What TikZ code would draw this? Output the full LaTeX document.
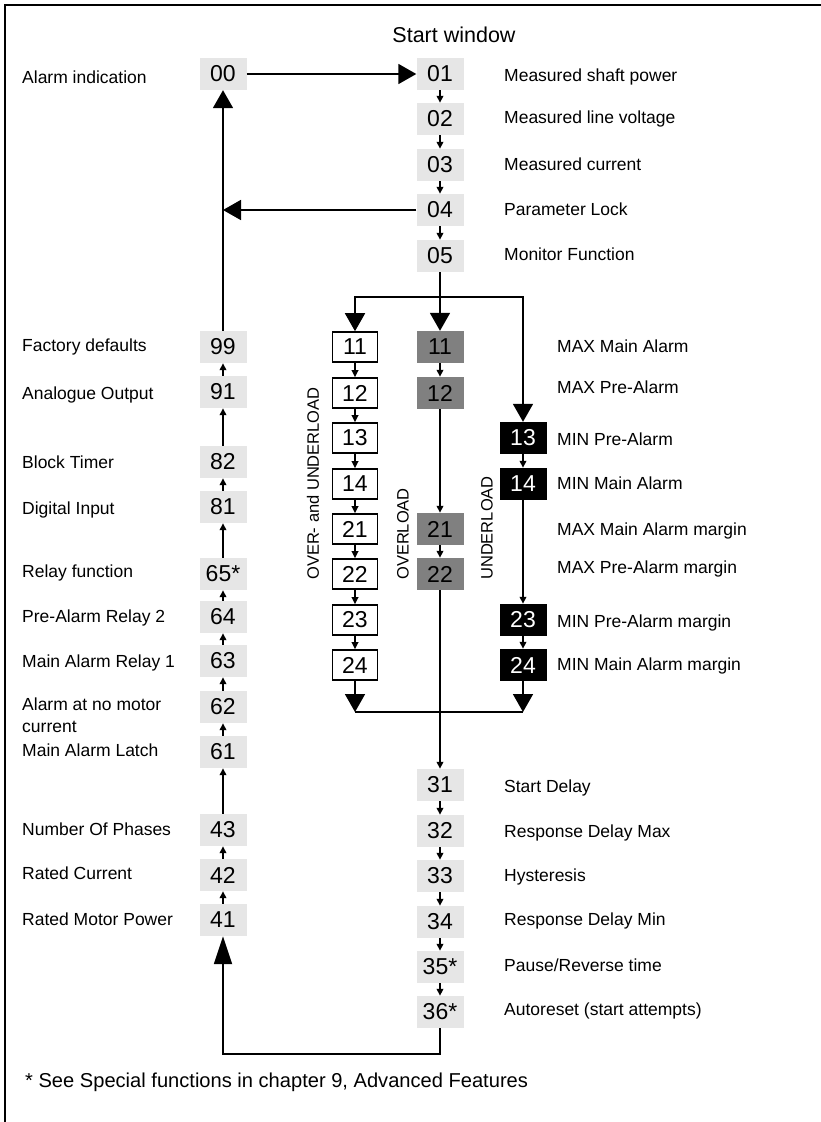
\documentclass[tikz,border=0pt]{standalone}
\usepackage{fontspec}
\setmainfont{Liberation Sans}
\usetikzlibrary{arrows.meta}
\definecolor{lgrey}{HTML}{E6E6E6}
\definecolor{dgrey}{HTML}{808080}
\newcommand\numf{\fontsize{23}{26}\selectfont}
\newcommand\lblf{\fontsize{17.5}{21}\selectfont}
\newcommand\rotf{\fontsize{16.5}{20}\selectfont}
\newcommand\footf{\fontsize{20.1}{23}\selectfont}
\begin{document}
\begin{tikzpicture}[x=1pt,y=-1pt,
  numbox/.style={minimum width=47pt,minimum height=32pt,inner sep=0pt,font=\numf},
  lgbox/.style={numbox,fill=lgrey},
  wbox/.style={numbox,draw,line width=1.6pt,fill=white,minimum width=45pt,minimum height=30pt},
  dgbox/.style={numbox,fill=dgrey},
  bkbox/.style={numbox,fill=black,text=white},
  lbl/.style={anchor=base west,font=\lblf,inner sep=0pt},
  rlbl/.style={anchor=west,font=\rotf,inner sep=0pt,rotate=90},
  conn/.style={line width=1.8pt},
  big/.style={conn,-{Triangle[length=18pt,width=20pt]}},
  small/.style={conn,-{Triangle[length=7pt,width=6.5pt]}},
]
\useasboundingbox (0,0) rectangle (821,1122);
\draw[line width=2pt] (5,1122) -- (5,5) -- (821,5);

\node[anchor=base,font=\fontsize{21.5}{24}\selectfont,inner sep=0pt] (title) at (454,42) {Start window};

% top column
\node[lgbox] (n00) at (223,74) {00};
\node[lgbox] (n01) at (440,74) {01};
\node[lgbox] (n02) at (440,119) {02};
\node[lgbox] (n03) at (440,165) {03};
\node[lgbox] (n04) at (440,210) {04};
\node[lgbox] (n05) at (440,256) {05};

% white column
\node[wbox] (w11) at (355,347) {11};
\node[wbox] (w12) at (355,393) {12};
\node[wbox] (w13) at (355,438) {13};
\node[wbox] (w14) at (355,484) {14};
\node[wbox] (w21) at (355,529) {21};
\node[wbox] (w22) at (355,574) {22};
\node[wbox] (w23) at (355,620) {23};
\node[wbox] (w24) at (355,665) {24};

% dark grey column
\node[dgbox] (g11) at (440,347) {11};
\node[dgbox] (g12) at (440,393) {12};
\node[dgbox] (g21) at (440,529) {21};
\node[dgbox] (g22) at (440,574) {22};

% black column
\node[bkbox] (b13) at (523,438) {13};
\node[bkbox] (b14) at (523,484) {14};
\node[bkbox] (b23) at (523,620) {23};
\node[bkbox] (b24) at (523,665) {24};

% bottom column
\node[lgbox] (n31) at (440,785) {31};
\node[lgbox] (n32) at (440,831) {32};
\node[lgbox] (n33) at (440,876) {33};
\node[lgbox] (n34) at (440,922) {34};
\node[lgbox] (n35) at (440,967) {35*};
\node[lgbox] (n36) at (440,1012) {36*};

% left column
\node[lgbox] (n99) at (223,347) {99};
\node[lgbox] (n91) at (223,392) {91};
\node[lgbox] (n82) at (223,462) {82};
\node[lgbox] (n81) at (223,507) {81};
\node[lgbox] (n65) at (223,574) {65*};
\node[lgbox] (n64) at (223,617) {64};
\node[lgbox] (n63) at (223,661) {63};
\node[lgbox] (n62) at (223,707) {62};
\node[lgbox] (n61) at (223,752) {61};
\node[lgbox] (n43) at (223,830) {43};
\node[lgbox] (n42) at (223,875) {42};
\node[lgbox] (n41) at (223,920) {41};

% left labels
\node[lbl] (l00) at (22,83) {Alarm indication};
\node[lbl] (l99) at (22,351) {Factory defaults};
\node[lbl] (l91) at (22,399) {Analogue Output};
\node[lbl] (l82) at (22,468) {Block Timer};
\node[lbl] (l81) at (22,514) {Digital Input};
\node[lbl] (l65) at (22,577) {Relay function};
\node[lbl] (l64) at (22,622) {Pre-Alarm Relay 2};
\node[lbl] (l63) at (22,667) {Main Alarm Relay 1};
\node[lbl] (l62a) at (22,710) {Alarm at no motor};
\node[lbl] (l62b) at (22,732) {current};
\node[lbl] (l61) at (22,756) {Main Alarm Latch};
\node[lbl] (l43) at (22,835) {Number Of Phases};
\node[lbl] (l42) at (22,879) {Rated Current};
\node[lbl] (l41) at (22,925) {Rated Motor Power};

% right labels
\node[lbl] (l01) at (504,81) {Measured shaft power};
\node[lbl] (l02) at (504,123) {Measured line voltage};
\node[lbl] (l03) at (504,170) {Measured current};
\node[lbl] (l04) at (504,215) {Parameter Lock};
\node[lbl] (l05) at (504,260) {Monitor Function};

\node[lbl] (m11) at (557,352) {MAX Main Alarm};
\node[lbl] (m12) at (557,393) {MAX Pre-Alarm};
\node[lbl] (m13) at (557,445) {MIN Pre-Alarm};
\node[lbl] (m14) at (557,489) {MIN Main Alarm};
\node[lbl] (m21) at (557,535) {MAX Main Alarm margin};
\node[lbl] (m22) at (557,573) {MAX Pre-Alarm margin};
\node[lbl] (m23) at (557,627) {MIN Pre-Alarm margin};
\node[lbl] (m24) at (557,670) {MIN Main Alarm margin};

\node[lbl] (l31) at (504,792) {Start Delay};
\node[lbl] (l32) at (504,837) {Response Delay Max};
\node[lbl] (l33) at (504,881) {Hysteresis};
\node[lbl] (l34) at (504,925) {Response Delay Min};
\node[lbl] (l35) at (504,971) {Pause/Reverse time};
\node[lbl] (l36) at (504,1015) {Autoreset (start attempts)};

\node[lbl,font=\footf] (foot) at (25,1087) {* See Special functions in chapter 9, Advanced Features};

% rotated labels
\node[rlbl] (rOU) at (313,580) {OVER- and UNDERLOAD};
\node[rlbl] (rO) at (403,580) {OVERLOAD};
\node[rlbl] (rU) at (487,580) {UNDERLOAD};

% connectors top
\draw[big] (n00) -- (n01);
\draw[small] (n01) -- (n02);
\draw[small] (n02) -- (n03);
\draw[small] (n03) -- (n04);
\draw[small] (n04) -- (n05);
\coordinate (j04) at (223,210);
\draw[big] (n04) -- (j04);
\draw[big] (n99) -- (n00);

% branch
\coordinate (s05) at (440,297);
\draw[big] (n05) -- (g11);
\draw[big] (s05) -| (w11);
\draw[big] (s05) -| (b13);

% white chain
\draw[small] (w11) -- (w12);
\draw[small] (w12) -- (w13);
\draw[small] (w13) -- (w14);
\draw[small] (w14) -- (w21);
\draw[small] (w21) -- (w22);
\draw[small] (w22) -- (w23);
\draw[small] (w23) -- (w24);

% grey chain
\draw[small] (g11) -- (g12);
\draw[small] (g12) -- (g21);
\draw[small] (g21) -- (g22);

% black chain
\draw[small] (b13) -- (b14);
\draw[small] (b14) -- (b23);
\draw[small] (b23) -- (b24);

% merge
\coordinate (mL) at (355,712);
\coordinate (mR) at (523,712);
\draw[big] (w24) -- (mL);
\draw[big] (b24) -- (mR);
\draw[conn] (mL) -- (mR);
\draw[small] (g22) -- (n31);

% bottom chain
\draw[small] (n31) -- (n32);
\draw[small] (n32) -- (n33);
\draw[small] (n33) -- (n34);
\draw[small] (n34) -- (n35);
\draw[small] (n35) -- (n36);
\coordinate (c36) at (440,1054);
\draw[conn,-{Triangle[length=28pt,width=18pt]}] (n36) -- (c36) -| (n41);

% left chain
\draw[small] (n41) -- (n42);
\draw[small] (n42) -- (n43);
\draw[small] (n43) -- (n61);
\draw[small] (n61) -- (n62);
\draw[small] (n62) -- (n63);
\draw[small] (n63) -- (n64);
\draw[small] (n64) -- (n65);
\draw[small] (n65) -- (n81);
\draw[small] (n81) -- (n82);
\draw[small] (n82) -- (n91);
\draw[small] (n91) -- (n99);
\end{tikzpicture}
\end{document}
